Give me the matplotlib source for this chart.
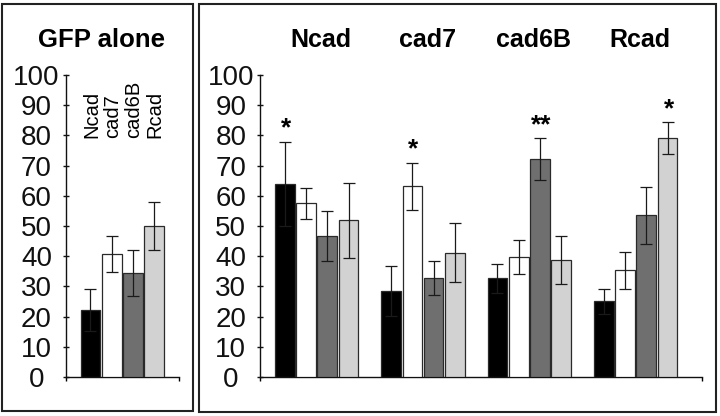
import matplotlib
matplotlib.use("Agg")
import matplotlib.pyplot as plt
from matplotlib.patches import Rectangle
import numpy as np

plt.rcParams['font.family'] = ['Liberation Sans', 'DejaVu Sans']

# ---- data ----
series = ["Ncad", "cad7", "cad6B", "Rcad"]          # bar identity (colour)
groups = ["Ncad", "cad7", "cad6B", "Rcad"]          # right panel groups
colors = ["#000000", "#ffffff", "#6f6f6f", "#d2d2d2"]

gfp_vals = [22.1, 40.8, 34.4, 50.1]
gfp_err = [6.9, 6.0, 7.5, 7.9]

# per series (bar colour), across groups Ncad, cad7, cad6B, Rcad
ncad_vals = [64.0, 28.4, 32.7, 25.1]
ncad_err = [13.9, 8.3, 4.8, 4.1]
cad7_vals = [57.5, 63.1, 39.8, 35.3]
cad7_err = [5.1, 7.7, 5.6, 6.1]
cad6b_vals = [46.7, 32.7, 72.1, 53.5]
cad6b_err = [8.2, 5.7, 6.9, 9.5]
rcad_vals = [51.9, 41.2, 38.7, 79.0]
rcad_err = [12.5, 9.9, 8.0, 5.3]

sig_marks = ["*", "*", "**", "*"]   # on series i within group i

yticks = [0, 10, 20, 30, 40, 50, 60, 70, 80, 90, 100]

series_vals = [ncad_vals, cad7_vals, cad6b_vals, rcad_vals]
series_err = [ncad_err, cad7_err, cad6b_err, rcad_err]

# ---- figure ----
W, H = 720, 416
fig = plt.figure(figsize=(7.2, 4.16), dpi=100)

y0px, y100px = 377, 75
axL = fig.add_axes([65.7 / W, (H - y0px) / H, 113.3 / W, (y0px - y100px) / H])
axR = fig.add_axes([260 / W, (H - y0px) / H, 441.7 / W, (y0px - y100px) / H])

offsets = [-0.3, -0.1, 0.1, 0.3]
bw = 0.185
err_kw = dict(fmt="none", ecolor="#1a1a1a", elinewidth=0.9, capsize=4.3,
              capthick=0.9, zorder=5)


def style(ax, xlim):
    ax.set_xlim(*xlim)
    ax.set_ylim(0, 100)
    for s in ["top", "right"]:
        ax.spines[s].set_visible(False)
    for s in ["left", "bottom"]:
        ax.spines[s].set_linewidth(1.0)
        ax.spines[s].set_color("#111111")
    ax.set_yticks(yticks)
    ax.set_yticklabels([str(t) for t in yticks])
    ax.tick_params(axis="y", direction="inout", length=4, width=1.0,
                   pad=19, labelsize=20, colors="#111111")
    for lbl in ax.get_yticklabels():
        lbl.set_ha("center")
    ax.set_xticks(list(xlim))
    ax.set_xticklabels([])
    ax.tick_params(axis="x", direction="out", length=3, width=1.0)
    ax.patch.set_visible(False)


# left panel
for j in range(4):
    axL.bar(offsets[j], gfp_vals[j], width=bw, color=colors[j],
            edgecolor="#2a2a2a", linewidth=0.9, zorder=3)
    axL.errorbar(offsets[j], gfp_vals[j], yerr=gfp_err[j], **err_kw)
    axL.text(offsets[j] + 0.01, 79, series[j], rotation=90,
             rotation_mode="anchor", ha="left", va="center", fontsize=14.5)
style(axL, (-0.533, 0.533))

# right panel
x = np.arange(len(groups))
for j in range(4):
    axR.bar(x + offsets[j], series_vals[j], width=bw, color=colors[j],
            edgecolor="#2a2a2a", linewidth=0.9, zorder=3)
    axR.errorbar(x + offsets[j], series_vals[j], yerr=series_err[j], **err_kw)
for g in range(4):
    top = series_vals[g][g] + series_err[g][g]
    axR.text(x[g] + offsets[g] + 0.01, top + 4.5, sig_marks[g],
             ha="center", va="center", fontsize=19, fontweight="bold")
    axR.text(x[g] + 0.04, 111.6, groups[g], ha="center", va="center",
             fontsize=18, fontweight="bold", clip_on=False)
style(axR, (-0.533, 3.621))

fig.text(101.5 / W, 1 - 40 / H, "GFP alone", ha="center", va="center",
         fontsize=18.5, fontweight="bold")

# panel frames
fig.patches.append(Rectangle((2 / W, 1 - 411 / H), 191 / W, 407 / H,
                             transform=fig.transFigure, fill=False,
                             edgecolor="#222222", linewidth=1.5))
fig.patches.append(Rectangle((199 / W, 1 - 412 / H), 517 / W, 408 / H,
                             transform=fig.transFigure, fill=False,
                             edgecolor="#222222", linewidth=1.5))

fig.savefig("out.png", dpi=100)
